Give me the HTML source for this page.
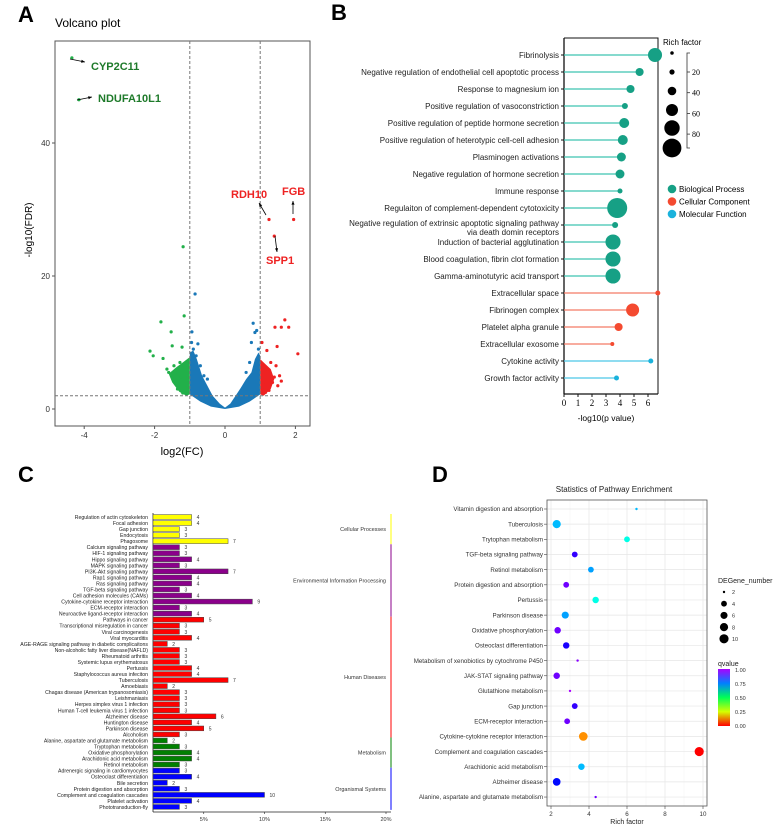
<!DOCTYPE html>
<html><head><meta charset="utf-8"><style>
html,body{margin:0;padding:0;background:#fff;}
svg{display:block;font-family:"Liberation Sans",Arial,sans-serif;}
</style></head><body>
<svg id="fig" width="777" height="825" viewBox="0 0 777 825" xmlns="http://www.w3.org/2000/svg">
<g font-weight="bold" font-size="22" fill="#000">
<text x="18" y="22">A</text>
<text x="331" y="20">B</text>
<text x="18" y="482">C</text>
<text x="432" y="482">D</text>
</g>
<g id="pa"></g>
<g id="pb"></g>
<g id="pc"></g>
<g id="pd"></g>
</svg>
<script>
const NS="http://www.w3.org/2000/svg";
function mk(parent,tag,attrs,txt){const e=document.createElementNS(NS,tag);for(const k in attrs)e.setAttribute(k,attrs[k]);if(txt!==undefined)e.textContent=txt;parent.appendChild(e);return e;}

/* ---------- Panel A data ---------- */
const volcanoGreenX=[-4.35,-4.15,-1.19,-1.16,-1.82,-1.53,-2.13,-2.04,-1.76,-1.5,-1.22,-1.65,-1.45,-1.35,-1.25,-1.1,-1.3,-1.4,-1.15,-1.05,-1.2,-1.6,-1.35,-1.1,-1.28];
const volcanoGreenY=[52.8,46.5,24.4,14,13.1,11.6,8.7,8,7.6,9.5,9.3,6,6.5,5.5,4.8,6.8,3.8,4.2,3.2,2.6,2.4,5.5,3,4,7];
const volcanoBlueX=[-0.85,-0.94,-0.77,-0.9,-0.82,-0.95,-0.7,-0.6,0.8,0.85,0.9,0.75,0.95,0.7,0.6,-0.5];
const volcanoBlueY=[17.3,11.6,9.8,9,8,10,6.5,5,12.9,11.5,11.8,10,9,7,5.5,4.5];
const volcanoRedX=[1.25,1.95,1.4,1.7,1.81,1.6,1.42,2.07,1.05,1.19,1.48,1.45,1.3,1.55,1.6,1.2,1.1,1.35,1.5,1.05,1.15,1.25,1.4,1.08];
const volcanoRedY=[28.5,28.5,26,13.4,12.3,12.3,12.3,8.3,10,8.8,9.4,6.5,7,5,4.2,6,5,4,3.5,3,2.5,2.8,4.8,4];
const blobX=[-1,-1,-0.9,-0.8,-0.65,-0.5,-0.35,-0.15,0,0.15,0.3,0.45,0.6,0.75,0.85,0.95,1,1,0.7,0.4,0,-0.4,-0.7];
const blobY=[2.2,8.5,8.8,7.5,5,3.5,2,0.8,0.2,0.8,2,3.2,4.5,5.5,7.5,8.5,8,2.2,1.1,0.35,0,0.35,1.1];
const greenBlobX=[-1,-1.1,-1.3,-1.5,-1.6,-1.4,-1.15,-1];
const greenBlobY=[2.2,2.0,2.6,4,5.3,6.2,7.2,7.8];
const redBlobX=[1,1.1,1.3,1.4,1.3,1.1,1];
const redBlobY=[2.2,2.0,3,4.5,6,7,7.5];
const aXTicks=[-4,-2,0,2];
const aYTicks=[0,20,40];

(function(){
const g=document.getElementById('pa');
const ax=v=>225+35.2*v, ay=v=>409-6.65*v;
mk(g,'text',{x:55,y:27,'font-size':12,},'Volcano plot');
mk(g,'rect',{x:55,y:41,width:255,height:385,fill:'none',stroke:'#555','stroke-width':1,});
mk(g,'polygon',{points:blobX.map((x,i)=>ax(x)+','+ay(blobY[i])).join(' '),fill:'#1a78b8',});
mk(g,'polygon',{points:greenBlobX.map((x,i)=>ax(x)+','+ay(greenBlobY[i])).join(' '),fill:'#22b04a',});
mk(g,'polygon',{points:redBlobX.map((x,i)=>ax(x)+','+ay(redBlobY[i])).join(' '),fill:'#ee2222',});
volcanoBlueX.forEach((x,i)=>{const c=mk(g,'circle',{cx:ax(x),cy:ay(volcanoBlueY[i]),r:1.6,fill:'#1a78b8'});

});
volcanoGreenX.forEach((x,i)=>{const c=mk(g,'circle',{cx:ax(x),cy:ay(volcanoGreenY[i]),r:1.6,fill:'#22b04a'});

});
volcanoRedX.forEach((x,i)=>{const c=mk(g,'circle',{cx:ax(x),cy:ay(volcanoRedY[i]),r:1.6,fill:'#ee2222'});

});
[-1,1].forEach(v=>mk(g,'line',{x1:ax(v),x2:ax(v),y1:41,y2:426,stroke:'#777','stroke-dasharray':'3,2',}));
mk(g,'line',{x1:55,x2:310,y1:ay(2),y2:ay(2),stroke:'#777','stroke-dasharray':'3,2',});
aXTicks.forEach(v=>{mk(g,'line',{x1:ax(v),x2:ax(v),y1:426,y2:429,stroke:'#555'});
const t=mk(g,'text',{x:ax(v),y:438,'font-size':8,'text-anchor':'middle',fill:'#333'},String(v));

});
aYTicks.forEach(v=>{mk(g,'line',{x1:52,x2:55,y1:ay(v),y2:ay(v),stroke:'#555'});
const t=mk(g,'text',{x:50,y:ay(v)+3,'font-size':8,'text-anchor':'end',fill:'#333'},String(v));

});
mk(g,'text',{x:182,y:455,'font-size':11,'text-anchor':'middle',},'log2(FC)');
mk(g,'text',{x:0,y:0,'font-size':10,'text-anchor':'middle',transform:'translate(32,230) rotate(-90)',},'-log10(FDR)');
const lab=(x,y,t,c)=>mk(g,'text',{x:x,y:y,'font-size':11,'font-weight':'bold',fill:c,},t);
lab(91,70,'CYP2C11','#1e7a2a');lab(98,102,'NDUFA10L1','#1e7a2a');
lab(231,198,'RDH10','#ee2222');lab(282,195,'FGB','#ee2222');lab(266,264,'SPP1','#ee2222');
const ar=(x1,y1,x2,y2)=>{mk(g,'line',{x1,y1,x2,y2,stroke:'#000','stroke-width':0.8,});
const a=Math.atan2(y2-y1,x2-x1);mk(g,'polygon',{points:`${x2},${y2} ${x2-4*Math.cos(a-0.4)},${y2-4*Math.sin(a-0.4)} ${x2-4*Math.cos(a+0.4)},${y2-4*Math.sin(a+0.4)}`,fill:'#000'});};
ar(70,59,85,62);ar(77,100,92,97);ar(266,215,259,203);ar(293,214,293,201);ar(275,236,277,252);
})();

/* ---------- Panel B data ---------- */
const goTerms=["Fibrinolysis","Negative regulation of endothelial cell apoptotic process","Response to magnesium ion","Positive regulation of vasoconstriction","Positive regulation of peptide hormone secretion","Positive regulation of heterotypic cell-cell adhesion","Plasminogen activations","Negative regulation of hormone secretion","Immune response","Regulaiton of complement-dependent cytotoxicity","Negative regulation of extrinsic apoptotic signaling pathway|via death domin receptors","Induction of bacterial agglutination","Blood coagulation, fibrin clot formation","Gamma-aminotutyric acid transport","Extracellular space","Fibrinogen complex","Platelet alpha granule","Extracellular exosome","Cytokine activity","Growth factor activity"];
const goPValue=[6.5,5.4,4.75,4.35,4.3,4.2,4.1,4.0,4.0,3.8,3.65,3.5,3.5,3.5,6.7,4.9,3.9,3.45,6.2,3.75];
const goRichFactor=[72,37,37,25,48,48,42,42,19,107,25,78,78,78,19,66,37,13,19,19];
const goCategory=["BP","BP","BP","BP","BP","BP","BP","BP","BP","BP","BP","BP","BP","BP","CC","CC","CC","CC","MF","MF"];
const bXTicks=[0,1,2,3,4,5,6];
const bSizeTicks=[20,40,60,80];
const bSizeLegend=[10,20,40,60,80,100];

(function(){
const g=document.getElementById('pb');
const bx=v=>564+14*v, by=i=>55+17*i, br=v=>0.9+0.085*v;
const col={BP:'#16a085',CC:'#f44a30',MF:'#1ab2dc'}, lcol={BP:'#3fc4b0',CC:'#f47a66',MF:'#4cc8e8'};
mk(g,'polyline',{points:'564,38 658,38 658,394',fill:'none',stroke:'#111','stroke-width':1,});
mk(g,'line',{x1:564,x2:564,y1:38,y2:394,stroke:'#111','stroke-width':1.3,});
mk(g,'line',{x1:564,x2:658,y1:394,y2:394,stroke:'#111','stroke-width':1.3,});
goTerms.forEach((t,i)=>{const y=by(i),c=goCategory[i];
mk(g,'line',{x1:561,x2:564,y1:y,y2:y,stroke:'#111'});
const parts=t.split('|');
parts.forEach((p,k)=>{const tx=mk(g,'text',{x:559,y:y+3+(parts.length>1?(k*9-2):0),'font-size':8,'text-anchor':'end',fill:'#222'},p);

});
const l=mk(g,'line',{x1:564,x2:bx(goPValue[i]),y1:y,y2:y,stroke:lcol[c],'stroke-width':1.2});


const d=mk(g,'circle',{cx:bx(goPValue[i]),cy:y,r:br(goRichFactor[i]),fill:col[c]});

});
bXTicks.forEach(v=>{mk(g,'line',{x1:bx(v),x2:bx(v),y1:394,y2:397,stroke:'#111'});
const t=mk(g,'text',{x:bx(v),y:406,'font-size':9,'text-anchor':'middle','font-family':'Liberation Serif, serif'},String(v));

});
mk(g,'text',{x:606,y:421,'font-size':8.5,'text-anchor':'middle',},'-log10(p value)');
mk(g,'text',{x:663,y:45,'font-size':8,},'Rich factor');
const ly=[53,72,91,110,128,148];
bSizeLegend.forEach((v,i)=>{const c=mk(g,'circle',{cx:672,cy:ly[i],r:br(v),fill:'#000'});

});
mk(g,'polyline',{points:'690,53 687,53 687,148 690,148',fill:'none',stroke:'#333','stroke-width':0.8,});
bSizeTicks.forEach((v,i)=>{const y=72+i*20.7;mk(g,'line',{x1:687,x2:690,y1:y,y2:y,stroke:'#333','stroke-width':0.8});
const t=mk(g,'text',{x:692,y:y+3,'font-size':8,'font-family':'Liberation Serif, serif'},String(v));

});
[['Biological Process','BP'],['Cellular Component','CC'],['Molecular Function','MF']].forEach((e,i)=>{const y=189+12.5*i;
mk(g,'circle',{cx:672,cy:y,r:4.3,fill:col[e[1]],});
mk(g,'text',{x:679,y:y+3,'font-size':8,},e[0]);});
})();

/* ---------- Panel C data ---------- */
const keggPathways=["Regulation of actin cytoskeleton","Focal adhesion","Gap junction","Endocytosis","Phagosome","Calcium signaling pathway","HIF-1 signaling pathway","Hippo signaling pathway","MAPK signaling pathway","PI3K-Akt signaling pathway","Rap1 signaling pathway","Ras signaling pathway","TGF-beta signaling pathway","Cell adhesion molecules (CAMs)","Cytokine-cytokine receptor interaction","ECM-receptor interaction","Neuroactive ligand-receptor interaction","Pathways in cancer","Transcriptional misregulation in cancer","Viral carcinogenesis","Viral myocarditis","AGE-RAGE signaling pathway in diabetic complicaitons","Non-alcoholic fatty liver disease(NAFLD)","Rheumatoid arthritis","Systemic lupus erythematosus","Pertussis","Staphylococcus aureus infeciton","Tuberculosis","Amoebiasis","Chagas disease (American trypanosomiasis)","Leishmaniasis","Herpes simplex virus 1 infection","Human T-cell leukemia virus 1 infection","Alzheimer disease","Huntington disease","Parkinson disease","Alcoholism","Alanine, aspartate and glutamate metabolism","Tryptophan metabolism","Oxidative phosphorylation","Arachidonic acid metabolism","Retinol metabolism","Adrenergic signaling in cardiomyocytes","Osteoclast differentiation","Bile secretion","Protein digestion and absorption","Complement and coagulation cascades","Platelet activation","Phototransduction-fly"];
const keggCounts=[4,4,3,3,7,3,3,4,3,7,4,4,3,4,9,3,4,5,3,3,4,2,3,3,3,4,4,7,2,3,3,3,3,6,4,5,3,2,3,4,4,3,3,4,2,3,10,4,3];
const keggClassNames=["Cellular Processes","Environmental Information Processing","Human Diseases","Metabolism","Organismal Systems"];
const keggClassSizes=[5,12,20,5,7];
const cXTicks=["5%","10%","15%","20%"];
const cXTickValues=[5,10,15,20];

(function(){
const g=document.getElementById('pc');
const cx=v=>143+12.15*v, cy=i=>517+6.04*i;
const cols=['#ffff00','#8b008b','#ff0000','#008000','#0000ff'];
mk(g,'line',{x1:153,x2:153,y1:513,y2:812,stroke:'#222','stroke-width':0.8,});
mk(g,'line',{x1:153,x2:391,y1:812,y2:812,stroke:'#222','stroke-width':0.8,});
let idx=0;
keggClassSizes.forEach((n,k)=>{const y0=cy(idx)-3,y1=cy(idx+n-1)+3;
const l=mk(g,'line',{x1:391,x2:391,y1:y0,y2:y1,stroke:cols[k],'stroke-width':1});


const t=mk(g,'text',{x:386,y:(y0+y1)/2+2,'font-size':5.5,'text-anchor':'end',fill:'#333'},keggClassNames[k]);


for(let j=0;j<n;j++){const i=idx+j,y=cy(i),v=keggCounts[i];
const r=mk(g,'rect',{x:153,y:y-2.4,width:cx(v)-153,height:4.8,fill:cols[k],stroke:'#444','stroke-width':0.5});


const vt=mk(g,'text',{x:cx(v)+5,y:y+2,'font-size':5,fill:'#333'},String(v));


const lt=mk(g,'text',{x:148,y:y+2,'font-size':5.2,'text-anchor':'end',fill:'#222'},keggPathways[i]);

}
idx+=n;});
cXTickValues.forEach((v,i)=>{mk(g,'line',{x1:cx(v),x2:cx(v),y1:812,y2:814,stroke:'#222','stroke-width':0.6});
const t=mk(g,'text',{x:cx(v),y:821,'font-size':5.5,'text-anchor':'middle',fill:'#333'},cXTicks[i]);

});
})();

/* ---------- Panel D data ---------- */
const enrichPathways=["Vitamin digestion and absorption","Tuberculosis","Trytophan metabolism","TGF-beta signaling pathway","Retinol metabolism","Protein digestion and absorption","Pertussis","Parkinson disease","Oxidative phosphorylation","Osteoclast differentiation","Metabolism of xenobiotics by cytochrome P450","JAK-STAT signaling pathway","Glutathione metabolism","Gap junction","ECM-receptor interaction","Cytokine-cytokine receptor interaction","Complement and coagulation cascades","Arachidonic acid metabolism","Alzheimer disease","Alanine, aspartate and glutamate metabolism"];
const enrichRichFactor=[6.5,2.3,6.0,3.25,4.1,2.8,4.35,2.75,2.35,2.8,3.4,2.3,3.0,3.25,2.85,3.7,9.8,3.6,2.3,4.35];
const enrichGeneNumber=[2,8,4,4,4,4,5,6,5,5,2,5,2,4,4,9,10,5,7,2];
const enrichQValue=[0.7,0.7,0.62,0.9,0.72,0.95,0.62,0.72,0.95,0.88,0.97,0.95,1.0,0.9,0.95,0.12,0.0,0.7,0.85,0.95];
const dXTicks=[2,4,6,8,10];
const dSizeTicks=[2,4,6,8,10];
const dColorTicks=["1.00","0.75","0.50","0.25","0.00"];

(function(){
const g=document.getElementById('pd');
const dx=v=>551+19*(v-2), dy=i=>509+15.16*i;
const rr=n=>n<=2?1.2:1.45*Math.sqrt(n);
const qc=q=>`hsl(${Math.round(q*280)},100%,50%)`;
mk(g,'text',{x:614,y:492,'font-size':8,'text-anchor':'middle',fill:'#222',},'Statistics of Pathway Enrichment');
mk(g,'rect',{x:547,y:500,width:160,height:306,fill:'#fff',});
dXTicks.forEach(v=>mk(g,'line',{x1:dx(v),x2:dx(v),y1:500,y2:806,stroke:'#e6e6e6','stroke-width':0.7}));
[3,5,7,9].forEach(v=>mk(g,'line',{x1:dx(v),x2:dx(v),y1:500,y2:806,stroke:'#f2f2f2','stroke-width':0.5}));
enrichPathways.forEach((p,i)=>{mk(g,'line',{x1:547,x2:707,y1:dy(i),y2:dy(i),stroke:'#e6e6e6','stroke-width':0.7});
mk(g,'line',{x1:544,x2:547,y1:dy(i),y2:dy(i),stroke:'#444','stroke-width':0.6});
const t=mk(g,'text',{x:543,y:dy(i)+2.2,'font-size':6.2,'text-anchor':'end',fill:'#333'},p);

});
enrichPathways.forEach((p,i)=>{const c=mk(g,'circle',{cx:dx(enrichRichFactor[i]),cy:dy(i),r:rr(enrichGeneNumber[i]),fill:qc(enrichQValue[i])});

});
mk(g,'rect',{x:547,y:500,width:160,height:306,fill:'none',stroke:'#555','stroke-width':0.8,});
dXTicks.forEach(v=>{mk(g,'line',{x1:dx(v),x2:dx(v),y1:806,y2:809,stroke:'#444','stroke-width':0.6});
const t=mk(g,'text',{x:dx(v),y:816,'font-size':6.2,'text-anchor':'middle',fill:'#333'},String(v));

});
mk(g,'text',{x:627,y:824,'font-size':7,'text-anchor':'middle',fill:'#222',},'Rich factor');
mk(g,'text',{x:718,y:583,'font-size':7,fill:'#222',},'DEGene_number');
dSizeTicks.forEach((n,i)=>{const y=592+11.7*i;
const c=mk(g,'circle',{cx:724,cy:y,r:rr(n),fill:'#000'});


const t=mk(g,'text',{x:732,y:y+2.2,'font-size':5.5,fill:'#333'},String(n));

});
mk(g,'text',{x:718,y:666,'font-size':7,fill:'#222',},'qvalue');
const defs=mk(g,'defs',{});
const lg=mk(defs,'linearGradient',{id:'qgrad',x1:0,y1:0,x2:0,y2:1});
[0,0.25,0.5,0.75,1].forEach(o=>mk(lg,'stop',{offset:o,'stop-color':qc(1-o)}));
mk(g,'rect',{x:718,y:669,width:12,height:57,fill:'url(#qgrad)',});
dColorTicks.forEach((s,i)=>{const y=670+14*i;
const t=mk(g,'text',{x:735,y:y+2,'font-size':5.5,fill:'#333'},s);

});
})();
</script>
</body></html>
